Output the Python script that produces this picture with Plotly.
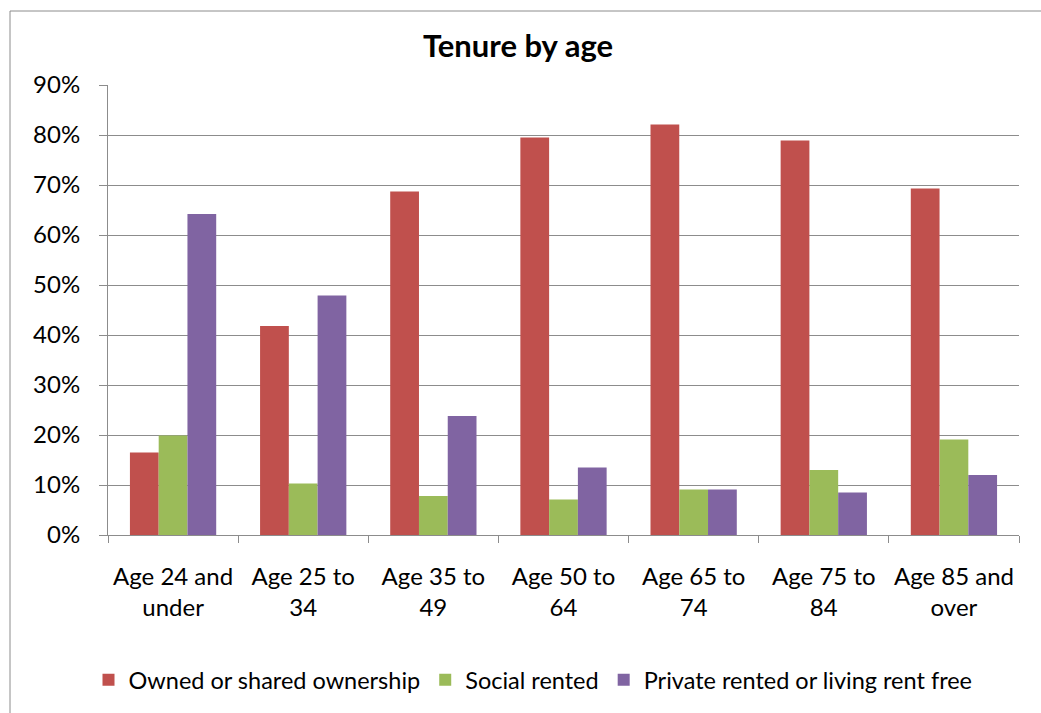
import plotly.graph_objects as go

categories = ["Age 24 and<br>under", "Age 25 to<br>34", "Age 35 to<br>49", "Age 50 to<br>64",
              "Age 65 to<br>74", "Age 75 to<br>84", "Age 85 and<br>over"]
owned = [16.5, 41.8, 68.7, 79.5, 82.1, 78.9, 69.3]
social = [19.9, 10.3, 7.8, 7.1, 9.1, 13.0, 19.1]
private = [64.2, 47.9, 23.8, 13.5, 9.1, 8.5, 12.0]
series_names = ["Owned or shared ownership", "Social rented", "Private rented or living rent free"]
colors = ["#C0504D", "#9BBB59", "#8064A2"]
yticks = [0, 10, 20, 30, 40, 50, 60, 70, 80, 90]
ytick_labels = [f"{v}%" for v in yticks]

W, H = 1041, 713
L, R, T, B = 108, 22, 85, 178
pw, ph = W - L - R, H - T - B

fig = go.Figure()
for name, vals, c in zip(series_names, [owned, social, private], colors):
    fig.add_trace(go.Bar(x=categories, y=vals, name=name, marker=dict(color=c, line=dict(width=0))))

font = "Lato, Carlito, sans-serif"
fig.update_layout(
    width=W, height=H,
    margin=dict(l=L, r=R, t=T, b=B),
    paper_bgcolor="white", plot_bgcolor="white",
    barmode="group", bargap=0.337, bargroupgap=0,
    title=dict(text="<b>Tenure by age</b>", x=518 / W, xanchor="center", y=1 - 46 / H, yanchor="middle",
               font=dict(family=font, size=31, color="black")),
    font=dict(family=font, size=24, color="black"),
    legend=dict(orientation="h", xref="container", yref="container", x=533 / W, xanchor="center",
                y=1 - 680 / H, yanchor="middle", font=dict(family=font, size=23.5, color="black"),
                itemwidth=30, tracegroupgap=0),
    showlegend=True,
)
fig.update_yaxes(range=[0, 90], tickvals=yticks, ticktext=ytick_labels, showgrid=True,
                 gridcolor="#8c8c8c", gridwidth=1, showline=True, linecolor="#8c8c8c", linewidth=1,
                 ticks="outside", ticklen=8, tickcolor="#8c8c8c", ticklabelstandoff=14,
                 tickfont=dict(family=font, size=24, color="black"), zeroline=False, fixedrange=True)
fig.update_xaxes(showline=True, linecolor="#8c8c8c", linewidth=1, ticks="outside", tickson="boundaries",
                 ticklen=7, tickcolor="#8c8c8c", showgrid=False,
                 tickfont=dict(family=font, size=24, color="black"), ticklabelstandoff=20)

# chart-area border (extends beyond image at right/bottom)
fig.add_shape(type="rect", xref="paper", yref="paper",
              x0=(10 - L) / pw, x1=(W + 5 - L) / pw,
              y0=(H - B - (H + 5)) / ph, y1=(H - B - 11) / ph,
              line=dict(color="#8c8c8c", width=1), fillcolor="rgba(0,0,0,0)", layer="below")

fig.write_html("out.html")
